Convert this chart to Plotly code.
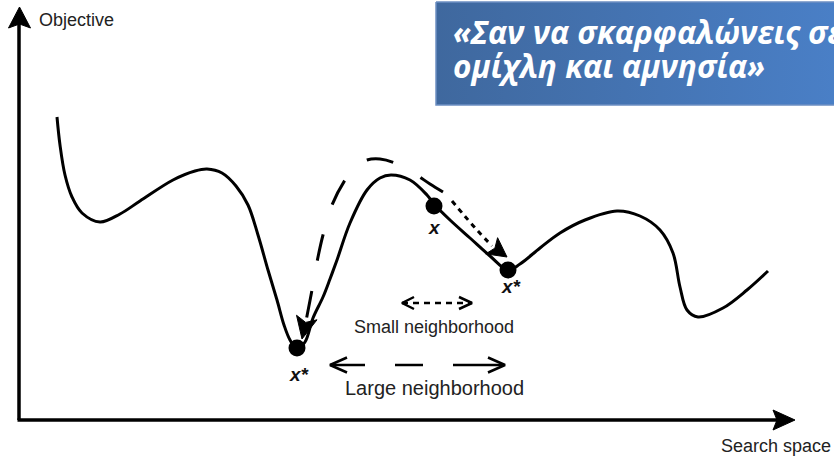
import math
import plotly.graph_objects as go

W, H = 834, 457

# Objective landscape (search-space position, objective drawn downward = better)
curve_x = [57, 60, 65, 72, 82, 100, 120, 140, 173, 195, 207, 222, 236, 248, 258,
           268, 277, 284, 290, 297, 305, 313, 323, 330, 337, 350, 367, 380, 391,
           410, 427, 434, 450, 470, 490, 508, 520, 540, 560, 585, 617, 640, 660,
           673, 680, 687, 698, 723, 747, 768]
curve_y = [117, 145, 175, 197, 213, 222, 214, 201, 180, 171, 169, 173, 186, 205, 235,
           270, 300, 325, 340, 349, 342, 318, 297, 279, 260, 223, 190, 178, 175,
           180, 195, 204, 220, 238, 256, 270, 264, 248, 233, 220, 211, 216, 230,
           253, 287, 310, 317, 308, 290, 271]

# Solutions: current point x, local optimum x*, global optimum x*
sol_x = [434, 508, 297]
sol_y = [206, 270, 348]
sol_labels = ["x", "x*", "x*"]
label_x = [434, 511, 299]
label_y = [227, 286, 374]

# Large-neighbourhood move (jump over the hill into the deep valley)
big_x = [443, 430, 415, 395, 380, 367, 355, 345, 332, 323, 317, 312, 306]
big_y = [192, 184, 174, 163, 159, 160, 167, 180, 205, 235, 262, 290, 321]
big_tip = (302, 339)

# Small-neighbourhood move (slide down into the nearby valley)
small_x = [452, 463, 477, 492]
small_y = [201, 214, 230, 246]
small_tip = (507, 257)

# Legend-like double arrows
small_nb_x = [402, 472]
small_nb_y = 303
large_nb_segments_x = [330, 365, None, 395, 423, None, 453, 504]
large_nb_y = 365

fig = go.Figure()


def head_path(tip, tail, length, half, notch):
    tx, ty = tip
    dx, dy = tip[0] - tail[0], tip[1] - tail[1]
    n = math.hypot(dx, dy)
    ux, uy = dx / n, dy / n
    px, py = -uy, ux
    bx, by = tx - ux * length, ty - uy * length
    nx, ny = tx - ux * (length - notch), ty - uy * (length - notch)
    return (f"M{tx},{ty} L{bx + px * half},{by + py * half} "
            f"L{nx},{ny} L{bx - px * half},{by - py * half} Z")


def add_head(tip, tail, length=19, half=10, notch=4):
    fig.add_shape(type="path", path=head_path(tip, tail, length, half, notch),
                  fillcolor="black", line=dict(color="black", width=1),
                  xref="x", yref="y", layer="above")


def add_chevron(tip, direction, dx, dy, width=2.5):
    tx, ty = tip
    fig.add_trace(go.Scatter(
        x=[tx - direction * dx, tx, tx - direction * dx],
        y=[ty - dy, ty, ty + dy],
        mode="lines", line=dict(color="black", width=width),
        hoverinfo="skip", showlegend=False))


# Axes with arrowheads
ax_x0, ax_y0 = 19, 420
ax_top, ax_right = 7, 795
fig.add_shape(type="line", x0=ax_x0, y0=ax_y0, x1=ax_x0, y1=ax_top + 12,
              line=dict(color="black", width=3.5))
fig.add_shape(type="line", x0=ax_x0 - 1.5, y0=ax_y0, x1=ax_right - 12, y1=ax_y0,
              line=dict(color="black", width=3.5))
add_head((ax_x0 + 0.5, ax_top), (ax_x0 + 0.5, ax_y0), length=21, half=11, notch=4)
add_head((ax_right, ax_y0), (ax_x0, ax_y0), length=22, half=10, notch=4)

# Landscape curve
fig.add_trace(go.Scatter(x=curve_x, y=curve_y, mode="lines",
                         line=dict(color="black", width=3, shape="spline", smoothing=1),
                         hoverinfo="skip", showlegend=False))

# Large move: long-dashed arc over the hill
fig.add_trace(go.Scatter(x=big_x, y=big_y, mode="lines",
                         line=dict(color="black", width=3, shape="spline",
                                   smoothing=1, dash="27px,31px"),
                         hoverinfo="skip", showlegend=False))
add_head(big_tip, (big_x[-1], big_y[-1]), length=22, half=10.5, notch=5)

# Small move: dotted arrow along the slope
fig.add_trace(go.Scatter(x=small_x, y=small_y, mode="lines",
                         line=dict(color="black", width=3, shape="spline", dash="5px,5px"),
                         hoverinfo="skip", showlegend=False))
add_head(small_tip, (small_x[-1], small_y[-1]), length=19, half=10, notch=4)

# Solution points
fig.add_trace(go.Scatter(x=sol_x, y=sol_y, mode="markers",
                         marker=dict(color="black", size=17, line=dict(width=0)),
                         hoverinfo="skip", showlegend=False))
for lx, ly, t in zip(label_x, label_y, sol_labels):
    fig.add_annotation(x=lx, y=ly, text=f"<b><i>{t}</i></b>", showarrow=False,
                       font=dict(family="Liberation Sans", size=19, color="#111"),
                       xanchor="center", yanchor="middle")

# Small-neighbourhood double arrow
fig.add_trace(go.Scatter(x=small_nb_x, y=[small_nb_y, small_nb_y], mode="lines",
                         line=dict(color="black", width=2.5, dash="6px,5px"),
                         hoverinfo="skip", showlegend=False))
add_chevron((small_nb_x[0], small_nb_y), -1, 12, 6)
add_chevron((small_nb_x[1], small_nb_y), 1, 13, 6)

# Large-neighbourhood double arrow
fig.add_trace(go.Scatter(x=large_nb_segments_x,
                         y=[large_nb_y if v is not None else None for v in large_nb_segments_x],
                         mode="lines", line=dict(color="black", width=2.5),
                         hoverinfo="skip", showlegend=False, connectgaps=False))
add_chevron((330, large_nb_y), -1, 17, 7.5)
add_chevron((505, large_nb_y), 1, 17, 7.5)

label_font = dict(family="Liberation Sans", color="#222")
fig.add_annotation(x=434, y=327, text="Small neighborhood", showarrow=False,
                   font=dict(size=18, **label_font), xanchor="center", yanchor="middle")
fig.add_annotation(x=434, y=388, text="Large neighborhood", showarrow=False,
                   font=dict(size=20, **label_font), xanchor="center", yanchor="middle")
fig.add_annotation(x=37, y=20, text="Objective", showarrow=False,
                   font=dict(size=18, **label_font), xanchor="left", yanchor="middle")
fig.add_annotation(x=719, y=446, text="Search space", showarrow=False,
                   font=dict(size=18, **label_font), xanchor="left", yanchor="middle")

# Quote banner
box_x = [436, 850, 850, 436, 436]
box_y = [2, 2, 105, 105, 2]
fig.add_trace(go.Scatter(x=box_x, y=box_y, mode="lines", fill="toself",
                         fillgradient=dict(type="horizontal",
                                           colorscale=[[0, "#3F689E"], [1, "#4A80C8"]]),
                         line=dict(color="#6C8FC2", width=1.5),
                         hoverinfo="skip", showlegend=False))
quote_font = dict(family="Open Sans", size=31.6, color="white")
fig.add_annotation(x=451, y=31, text="<b><i>«Σαν να σκαρφαλώνεις σε</i></b>",
                   showarrow=False, font=quote_font, xanchor="left", yanchor="middle")
fig.add_annotation(x=451, y=65, text="<b><i>ομίχλη και αμνησία»</i></b>",
                   showarrow=False, font=quote_font, xanchor="left", yanchor="middle")

fig.update_layout(
    width=W, height=H, margin=dict(l=0, r=0, t=0, b=0),
    paper_bgcolor="white", plot_bgcolor="white",
    xaxis=dict(range=[0, W], visible=False, fixedrange=True),
    yaxis=dict(range=[H, 0], visible=False, fixedrange=True),
    showlegend=False,
)

fig.write_html("out.html", config={"displayModeBar": False})
